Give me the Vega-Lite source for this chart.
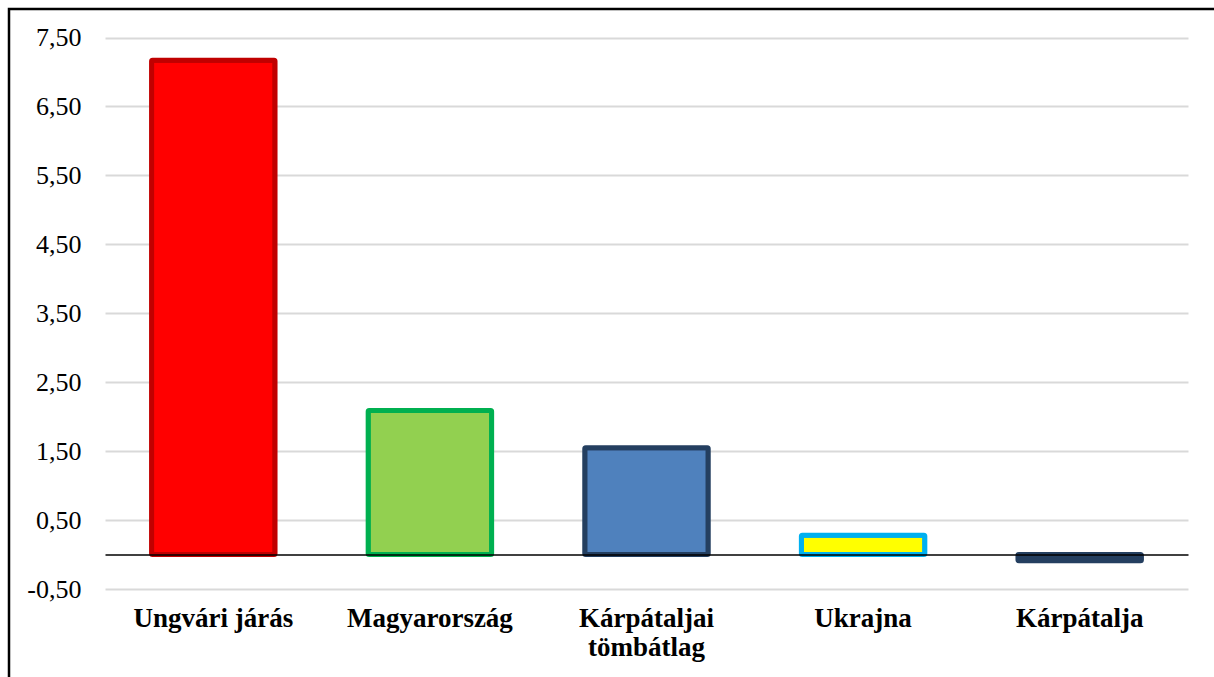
{
  "$schema": "https://vega.github.io/schema/vega-lite/v6.json",
  "width": 1208,
  "height": 670,
  "autosize": {"type": "none"},
  "padding": {"left": 9, "top": 9, "right": 0, "bottom": 0},
  "background": "white",
  "config": {
    "view": {"stroke": "black", "strokeWidth": 2.5, "fill": "white"}
  },
  "data": {
    "values": [
      {"region": "Ungvári járás", "value": 7.17},
      {"region": "Magyarország", "value": 2.09},
      {"region": "Kárpátaljai tömbátlag", "value": 1.55},
      {"region": "Ukrajna", "value": 0.28},
      {"region": "Kárpátalja", "value": -0.09}
    ]
  },
  "mark": {"type": "bar", "strokeWidth": 5, "strokeJoin": "round", "cornerRadius": 1},
  "encoding": {
    "x": {
      "field": "region",
      "type": "nominal",
      "sort": null,
      "scale": {"range": [96, 1179], "paddingInner": 0.43, "paddingOuter": 0.215},
      "axis": {
        "title": null,
        "offset": -124.5,
        "domain": true,
        "domainColor": "black",
        "domainWidth": 1.5,
        "ticks": false,
        "tickSize": 0,
        "grid": false,
        "labelAngle": 0,
        "labelPadding": 51,
        "labelFont": "Liberation Serif",
        "labelFontSize": 27,
        "labelFontWeight": "bold",
        "labelColor": "black",
        "labelLineHeight": 29,
        "labelExpr": "datum.label == 'Kárpátaljai tömbátlag' ? ['Kárpátaljai', 'tömbátlag'] : datum.label",
        "zindex": 1
      }
    },
    "y": {
      "field": "value",
      "type": "quantitative",
      "scale": {"domain": [-0.5, 7.5], "range": [580, 28.5], "nice": false, "zero": false},
      "axis": {
        "title": null,
        "offset": -96,
        "values": [-0.5, 0.5, 1.5, 2.5, 3.5, 4.5, 5.5, 6.5, 7.5],
        "labelExpr": "(datum.value < 0 ? '-' : '') + replace(format(abs(datum.value), '.2f'), '.', ',')",
        "domain": false,
        "ticks": false,
        "tickSize": 0,
        "labelPadding": 24,
        "labelFont": "Liberation Serif",
        "labelFontSize": 26,
        "labelColor": "black",
        "grid": true,
        "gridColor": "#D9D9D9",
        "gridWidth": 2,
        "zindex": 0
      }
    },
    "fill": {
      "field": "region",
      "type": "nominal",
      "legend": null,
      "scale": {
        "domain": ["Ungvári járás", "Magyarország", "Kárpátaljai tömbátlag", "Ukrajna", "Kárpátalja"],
        "range": ["#FF0000", "#92D050", "#4F81BD", "#FFFF00", "#243F60"]
      }
    },
    "stroke": {
      "field": "region",
      "type": "nominal",
      "legend": null,
      "scale": {
        "domain": ["Ungvári járás", "Magyarország", "Kárpátaljai tömbátlag", "Ukrajna", "Kárpátalja"],
        "range": ["#C00000", "#00B050", "#243F60", "#00B0F0", "#243F60"]
      }
    }
  }
}
